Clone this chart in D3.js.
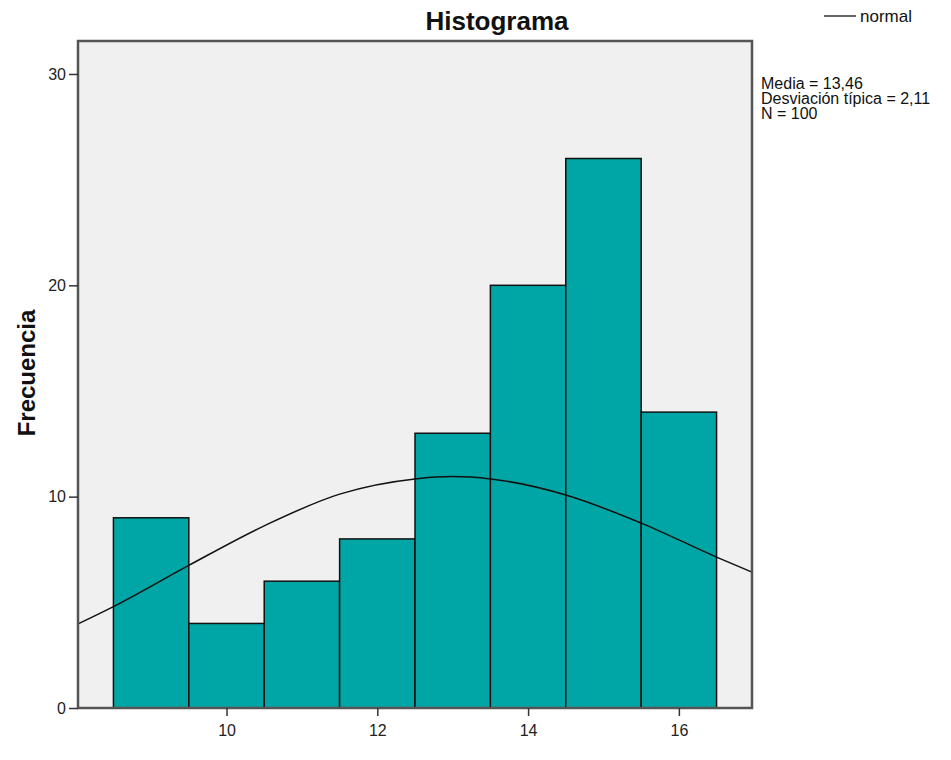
<!DOCTYPE html>
<html>
<head>
<meta charset="utf-8">
<script src="https://cdn.jsdelivr.net/npm/d3@7"></script>
<style>
  body { margin: 0; background: #ffffff; }
  svg { display: block; font-family: "Liberation Sans", Arial, sans-serif; }
</style>
</head>
<body>
<svg id="chart" width="951" height="760"></svg>
<script>
// ---- data ----
const binStarts = [8.5, 9.5, 10.5, 11.5, 12.5, 13.5, 14.5, 15.5];
const binWidth = 1;
const frequencies = [9, 4, 6, 8, 13, 20, 26, 14];
const xTicks = [10, 12, 14, 16];
const yTicks = [0, 10, 20, 30];
// normal curve points
const curveX = [8.03, 8.5, 9.5, 10.5, 11.5, 12.5, 13.0, 13.5, 14.5, 15.5, 16.5, 16.97];
const curveY = [3.98, 4.80, 6.75, 8.62, 10.12, 10.84, 10.95, 10.84, 10.08, 8.75, 7.14, 6.43];
const statsLines = ["Media = 13,46", "Desviación típica = 2,11", "N = 100"];
const titleText = "Histograma";
const yLabel = "Frecuencia";
const legendLabel = "normal";

// ---- layout ----
const pLeft = 78, pRight = 752, pTop = 41, pBottom = 708;
const svg = d3.select("#chart");

const x = d3.scaleLinear().domain([8.03, 16.97]).range([pLeft, pRight]);
const y = d3.scaleLinear().domain([0, 31.56]).range([pBottom, pTop]);

// plot background
svg.append("rect")
  .attr("x", pLeft).attr("y", pTop)
  .attr("width", pRight - pLeft).attr("height", pBottom - pTop)
  .attr("fill", "#f0f0f0");

// bars
svg.append("g").selectAll("rect")
  .data(frequencies)
  .join("rect")
  .attr("x", (d, i) => x(binStarts[i]))
  .attr("y", d => y(d))
  .attr("width", (d, i) => x(binStarts[i] + binWidth) - x(binStarts[i]))
  .attr("height", d => y(0) - y(d))
  .attr("fill", "#00a6a5")
  .attr("stroke", "#111")
  .attr("stroke-width", 1.5);

// normal curve
const line = d3.line()
  .x(d => x(d[0])).y(d => y(d[1]))
  .curve(d3.curveMonotoneX);
svg.append("path")
  .datum(curveX.map((v, i) => [v, curveY[i]]))
  .attr("d", line)
  .attr("fill", "none")
  .attr("stroke", "#111")
  .attr("stroke-width", 1.5);

// frame
svg.append("rect")
  .attr("x", pLeft).attr("y", pTop)
  .attr("width", pRight - pLeft).attr("height", pBottom - pTop)
  .attr("fill", "none")
  .attr("stroke", "#555")
  .attr("stroke-width", 2.5);

// axes
const xAxis = d3.axisBottom(x).tickValues(xTicks).tickSize(8).tickPadding(9).tickSizeOuter(0);
const gx = svg.append("g").attr("transform", `translate(0,${pBottom})`).call(xAxis);
gx.select(".domain").remove();
gx.selectAll("line").attr("stroke", "#333").attr("stroke-width", 1.5);
gx.selectAll("text").attr("font-size", 16).attr("fill", "#222")
  .attr("font-family", "Liberation Sans, Arial, sans-serif");

const yAxis = d3.axisLeft(y).tickValues(yTicks).tickSize(9).tickPadding(3).tickSizeOuter(0);
const gy = svg.append("g").attr("transform", `translate(${pLeft},0)`).call(yAxis);
gy.select(".domain").remove();
gy.selectAll("line").attr("stroke", "#333").attr("stroke-width", 1.5);
gy.selectAll("text").attr("font-size", 16).attr("fill", "#222")
  .attr("font-family", "Liberation Sans, Arial, sans-serif");

// title
svg.append("text")
  .attr("x", 497).attr("y", 30)
  .attr("text-anchor", "middle")
  .attr("font-size", 26).attr("font-weight", "bold").attr("fill", "#111")
  .text(titleText);

// y label
svg.append("text")
  .attr("transform", `translate(35,373) rotate(-90)`)
  .attr("text-anchor", "middle")
  .attr("font-size", 24).attr("font-weight", "bold").attr("fill", "#111")
  .text(yLabel);

// legend
svg.append("line")
  .attr("x1", 824).attr("x2", 856).attr("y1", 16).attr("y2", 16)
  .attr("stroke", "#333").attr("stroke-width", 1.5);
svg.append("text")
  .attr("x", 860).attr("y", 22)
  .attr("font-size", 17).attr("fill", "#111")
  .text(legendLabel);

// stats
svg.append("g").selectAll("text")
  .data(statsLines)
  .join("text")
  .attr("x", 761)
  .attr("y", (d, i) => 89 + i * 15)
  .attr("font-size", 16).attr("fill", "#111")
  .text(d => d);
</script>
</body>
</html>
